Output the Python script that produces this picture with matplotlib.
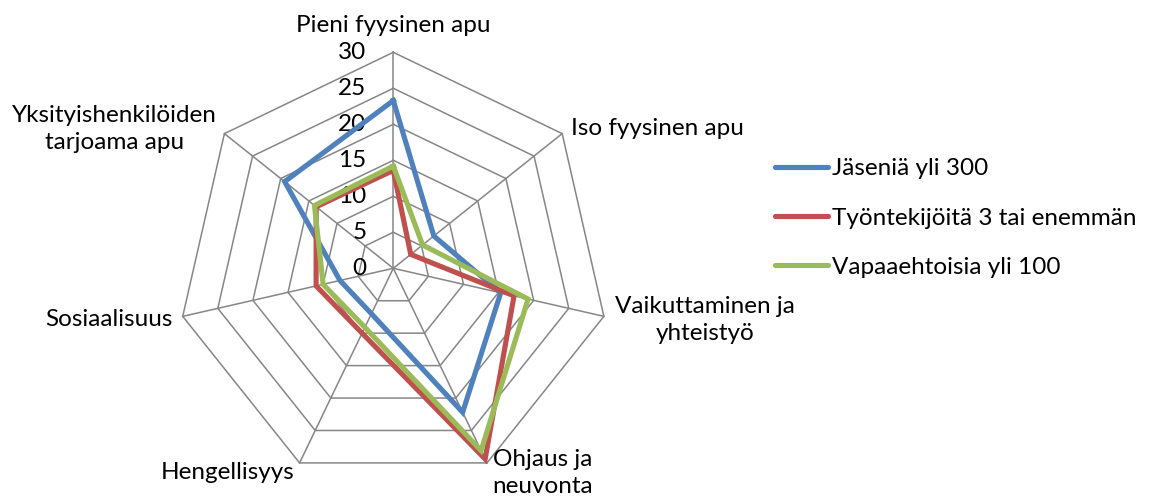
import matplotlib
matplotlib.use("Agg")
import matplotlib.pyplot as plt
import numpy as np

plt.rcParams["font.family"] = ["Lato", "DejaVu Sans"]

categories = [
    "Pieni fyysinen apu",
    "Iso fyysinen apu",
    "Vaikuttaminen ja\nyhteistyö",
    "Ohjaus ja\nneuvonta",
    "Hengellisyys",
    "Sosiaalisuus",
    "Yksityishenkilöiden\ntarjoama apu",
]
series_names = ["Jäseniä yli 300", "Työntekijöitä 3 tai enemmän", "Vapaaehtoisia yli 100"]
jasenia = [23.3, 7.2, 15.3, 22.2, 7.0, 7.6, 19.3]
tyontekijoita = [13.6, 3.1, 17.2, 29.4, 10.0, 11.0, 13.7]
vapaaehtoisia = [14.2, 5.2, 19.2, 28.1, 9.1, 10.0, 14.0]
ticks = [0, 5, 10, 15, 20, 25, 30]

colors = ["#4F81BD", "#C0504D", "#9BBB59"]
grid_color = "#868686"
fs = 17.5

W, H = 1159, 500
fig = plt.figure(figsize=(W / 100, H / 100), dpi=100)

# chart centre and scale in pixels
cx, cy = 393.3, 268.3
px_per_unit = 216 / 30
R = 240
ax = fig.add_axes([(cx - R) / W, 1 - (cy + R) / H, 2 * R / W, 2 * R / H])
lim = R / px_per_unit
ax.set_xlim(-lim, lim)
ax.set_ylim(-lim, lim)
ax.axis("off")

n = len(categories)
angles = np.arange(n) * 2 * np.pi / n


def to_xy(values):
    v = np.asarray(values, dtype=float)
    v = np.append(v, v[0])
    a = np.append(angles, angles[0])
    return v * np.sin(a), v * np.cos(a)


# web grid
for t in ticks[1:]:
    gx, gy = to_xy([t] * n)
    ax.plot(gx, gy, color=grid_color, lw=1.1, clip_on=False, zorder=1)
for a in angles:
    ax.plot([0, 30 * np.sin(a)], [0, 30 * np.cos(a)], color=grid_color,
            lw=1.1, clip_on=False, zorder=1)

# radial tick labels
for t in ticks:
    ax.annotate(str(t), xy=(0, t), xytext=(-27, 0), textcoords="offset pixels",
                ha="right", va="center", fontsize=fs, annotation_clip=False)

# series
handles = []
for vals, name, c in zip([jasenia, tyontekijoita, vapaaehtoisia], series_names, colors):
    sx, sy = to_xy(vals)
    ln, = ax.plot(sx, sy, color=c, lw=3.7, clip_on=False, zorder=3,
                  solid_joinstyle="miter", label=name)
    handles.append(ln)

# category labels (offsets in pixels from the outer vertex)
label_offsets = [(0, 27), (9, 5.5), (101, -3.5), (56, -10), (-5, -9.5), (-10, -3), (-110, 4.5)]
label_ha = ["center", "left", "center", "center", "right", "right", "center"]
for a, lab, off, ha in zip(angles, categories, label_offsets, label_ha):
    ax.annotate(lab, xy=(30 * np.sin(a), 30 * np.cos(a)), xytext=off,
                textcoords="offset pixels", ha=ha, va="center",
                multialignment="center", fontsize=fs, linespacing=1.35,
                annotation_clip=False)

leg = fig.legend(handles=handles, loc="center left",
                 bbox_to_anchor=(775 / W, 1 - 218 / H), frameon=False,
                 fontsize=fs, handlelength=2.2, handletextpad=0.15,
                 labelspacing=1.17, borderpad=0, borderaxespad=0)
for h in leg.legend_handles:
    h.set_solid_capstyle("round")
    h.set_linewidth(3.7)

plt.savefig("out.png", dpi=100)
